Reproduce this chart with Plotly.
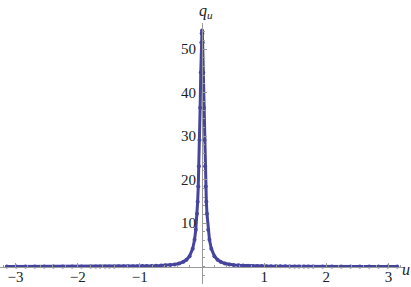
import plotly.graph_objects as go

# sample points (u) and values (q_u)
u_vals = [-3.14, -2.99, -2.84, -2.69, -2.54, -2.39, -2.24, -2.09, -1.94, -1.79,
          -1.71, -1.64, -1.56, -1.49, -1.41, -1.34, -1.26, -1.19, -1.11, -1.04,
          -0.96, -0.89, -0.81, -0.74, -0.66, -0.59, -0.51, -0.44, -0.37, -0.30,
          -0.25, -0.20, -0.15, -0.12, -0.10, -0.08, -0.07, -0.06, -0.05, -0.04,
          -0.03, -0.02, -0.01, -0.005, 0.0, 0.005, 0.01, 0.02, 0.03, 0.04,
          0.05, 0.06, 0.07, 0.08, 0.10, 0.12, 0.15, 0.20, 0.25, 0.30,
          0.37, 0.44, 0.51, 0.59, 0.66, 0.74, 0.81, 0.89, 0.96, 1.04,
          1.11, 1.19, 1.26, 1.34, 1.41, 1.49, 1.56, 1.64, 1.71, 1.79,
          1.94, 2.09, 2.24, 2.39, 2.54, 2.69, 2.84, 2.99, 3.14]
q_vals = [0.010, 0.011, 0.012, 0.014, 0.016, 0.018, 0.020, 0.023, 0.027, 0.031,
          0.034, 0.037, 0.041, 0.045, 0.050, 0.056, 0.063, 0.071, 0.081, 0.093,
          0.11, 0.13, 0.15, 0.18, 0.23, 0.29, 0.38, 0.51, 0.72, 1.09,
          1.56, 2.40, 4.12, 6.18, 8.47, 12.17, 14.88, 18.43, 23.09, 29.11,
          36.52, 44.64, 51.51, 53.58, 54.3, 53.58, 51.51, 44.64, 36.52, 29.11,
          23.09, 18.43, 14.88, 12.17, 8.47, 6.18, 4.12, 2.40, 1.56, 1.09,
          0.72, 0.51, 0.38, 0.29, 0.23, 0.18, 0.15, 0.13, 0.11, 0.093,
          0.081, 0.071, 0.063, 0.056, 0.050, 0.045, 0.041, 0.037, 0.034, 0.031,
          0.027, 0.023, 0.020, 0.018, 0.016, 0.014, 0.012, 0.011, 0.010]

x_ticks = [-3, -2, -1, 1, 2, 3]
y_ticks = [10, 20, 30, 40, 50]

x_range = [-3.25, 3.25]
y_range = [-4, 56]

curve_color = "#3d3c98"
axis_color = "#9a9a9a"
font = dict(family="Liberation Serif, Times New Roman, serif", size=15, color="#222222")

fig = go.Figure()
fig.add_trace(go.Scatter(
    x=u_vals, y=q_vals, mode="lines+markers",
    line=dict(color=curve_color, width=3),
    marker=dict(color=curve_color, size=4),
    opacity=0.95,
    showlegend=False,
))

fig.update_layout(
    width=411, height=287,
    margin=dict(l=0, r=7, t=23, b=3, autoexpand=False),
    paper_bgcolor="white", plot_bgcolor="white",
    font=font,
    xaxis=dict(
        range=x_range, tickvals=x_ticks, showgrid=False, zeroline=False,
        anchor="free", position=(0 - y_range[0]) / (y_range[1] - y_range[0]),
        automargin=False,
        showline=True, linecolor=axis_color, linewidth=1,
        ticks="inside", ticklen=4, tickcolor=axis_color,
        minor=dict(dtick=0.2, ticks="inside", ticklen=2, tickcolor=axis_color),
        tickfont=font, ticklabelstandoff=-4,
    ),
    yaxis=dict(
        range=y_range, tickvals=y_ticks, showgrid=False, zeroline=False,
        anchor="free", position=(0 - x_range[0]) / (x_range[1] - x_range[0]),
        automargin=False,
        showline=True, linecolor=axis_color, linewidth=1,
        ticks="inside", ticklen=4, tickcolor=axis_color,
        minor=dict(dtick=2, ticks="inside", ticklen=2, tickcolor=axis_color),
        tickfont=font, ticklabelstandoff=3,
    ),
    annotations=[
        dict(text="<i>u</i>", x=1.0, y=0, xref="paper", yref="y",
             xanchor="center", yanchor="middle", showarrow=False, xshift=2, yshift=-3,
             font=dict(family="Liberation Serif, serif", size=16, color="#222222")),
        dict(text="<i>q</i><sub><i>u</i></sub>", x=0, y=1.0, xref="x", yref="paper",
             xanchor="center", yanchor="bottom", showarrow=False, xshift=4,
             font=dict(family="Liberation Serif, serif", size=16, color="#222222")),
    ],
)

fig.write_html("out.html",
               config={"displayModeBar": False},
               post_script="document.body.style.margin='0';document.body.style.overflow='hidden';")
